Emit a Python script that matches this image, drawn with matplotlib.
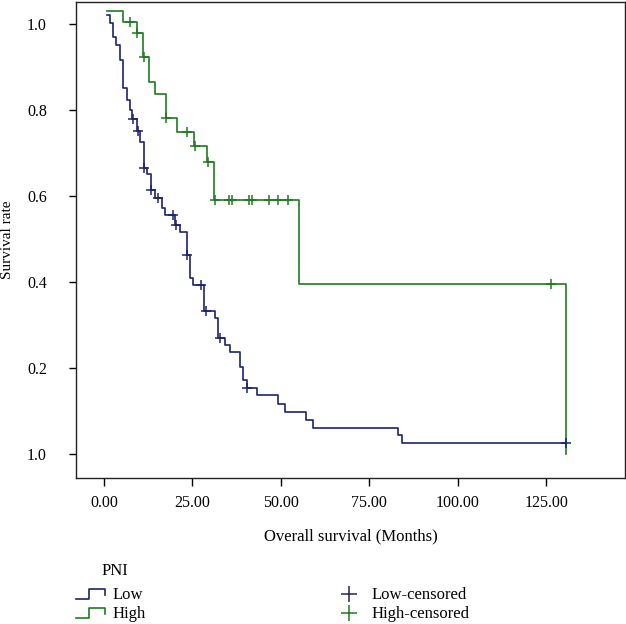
import numpy as np
import matplotlib.pyplot as plt
from matplotlib.lines import Line2D
from matplotlib.legend_handler import HandlerBase

# Kaplan-Meier data (months, survival)
low_t = [0.76, 1.70, 2.46, 3.39, 4.52, 5.46, 6.59, 7.35, 7.92, 9.25, 10.18,
         11.31, 12.25, 13.29, 14.42, 16.32, 17.25, 20.08, 21.49, 23.39, 24.32,
         25.25, 28.37, 31.39, 32.32, 34.22, 35.63, 38.46, 39.22, 40.36, 43.35,
         49.12, 51.19, 57.13, 59.19, 83.0, 84.2, 130.6]
low_s = [1.020, 1.002, 0.970, 0.951, 0.916, 0.850, 0.823, 0.800, 0.778, 0.752,
         0.726, 0.664, 0.651, 0.614, 0.595, 0.571, 0.556, 0.533, 0.517, 0.463,
         0.409, 0.393, 0.333, 0.316, 0.269, 0.253, 0.238, 0.203, 0.172, 0.153,
         0.136, 0.116, 0.098, 0.079, 0.061, 0.043, 0.025, 0.025]
low_cens = [8.1, 9.5, 11.4, 13.4, 15.4, 19.5, 20.5, 23.5, 27.4, 28.9, 32.7,
            40.5, 130.6]

high_t = [0.76, 5.46, 9.25, 11.11, 12.81, 14.42, 17.45, 20.56, 25.45, 29.0,
          31.19, 55.15, 130.7]
high_s = [1.030, 1.005, 0.978, 0.924, 0.866, 0.837, 0.781, 0.748, 0.717, 0.680,
          0.591, 0.395, 0.0]
high_cens = [7.35, 9.4, 11.3, 17.6, 23.4, 25.6, 29.3, 31.3, 35.4, 36.1, 41.1,
             41.8, 46.7, 49.3, 52.1, 126.4]

x_ticks = [0, 25, 50, 75, 100, 125]
x_labels = ["0.00", "25.00", "50.00", "75.00", "100.00", "125.00"]
y_ticks = [0.0, 0.2, 0.4, 0.6, 0.8, 1.0]
y_labels = ["1.0", "0.2", "0.4", "0.6", "0.8", "1.0"]

c_low = "#1c236e"
c_high = "#1f7a1f"


def surv_at(t, times, surv):
    i = np.searchsorted(times, t, side="right") - 1
    return np.array(surv)[i]


plt.rcParams["font.family"] = ["Liberation Serif", "DejaVu Serif"]

fig = plt.figure(figsize=(6.26, 6.24), dpi=100)
ax = fig.add_axes([76 / 626, 1 - 478 / 624, 549 / 626, 476 / 624])

ax.step(high_t, high_s, where="post", color=c_high, lw=1.2)
ax.plot(high_cens, surv_at(high_cens, high_t, high_s), "+", color=c_high,
        ms=7, mew=1.1)
ax.step(low_t, low_s, where="post", color=c_low, lw=1.2)
ax.plot(low_cens, surv_at(low_cens, low_t, low_s), "+", color=c_low,
        ms=7, mew=1.1)

ax.set_xlim(-7.9, 147.3)
ax.set_ylim(-0.056, 1.051)
ax.set_xticks(x_ticks)
ax.set_xticklabels(x_labels)
ax.set_yticks(y_ticks)
ax.set_yticklabels(y_labels)
ax.tick_params(axis="x", length=6, width=1, pad=6, labelsize=11.5)
ax.tick_params(axis="y", length=5, width=1, pad=16, labelsize=11.5)
for sp in ax.spines.values():
    sp.set_linewidth(1)
    sp.set_color("#222222")

ax.set_xlabel("Overall survival (Months)", fontsize=12, labelpad=13)
ax.set_ylabel("Survival rate", fontsize=11, labelpad=9)


class HandlerStep(HandlerBase):
    def create_artists(self, legend, orig_handle, xdescent, ydescent,
                       width, height, fontsize, trans):
        x = np.array([0, 0.45, 0.45, 1.0, 1.0]) * width - xdescent
        y = np.array([0.0, 0.0, 0.9, 0.9, 0.35]) * height - ydescent
        ln = Line2D(x, y, color=orig_handle.get_color(), lw=1.2)
        ln.set_transform(trans)
        return [ln]


h_low = Line2D([], [], color=c_low)
h_high = Line2D([], [], color=c_high)
h_lowc = Line2D([], [], color=c_low, marker="+", ls="None", ms=11, mew=1.1)
h_highc = Line2D([], [], color=c_high, marker="+", ls="None", ms=11, mew=1.1)

fig.text(102 / 626, 1 - 571 / 624, "PNI", fontsize=12, va="center")
leg = fig.legend([h_low, h_high, h_lowc, h_highc],
                 ["Low", "High", "Low-censored", "High-censored"],
                 loc="upper left",
                 bbox_to_anchor=(68 / 626, 1 - 579 / 624),
                 ncol=2, frameon=False, fontsize=12,
                 borderpad=0, handlelength=1.7,
                 handletextpad=0.5, columnspacing=11.3, labelspacing=0.18,
                 handler_map={h_low: HandlerStep(), h_high: HandlerStep()})

fig.savefig("out.png", dpi=100)
